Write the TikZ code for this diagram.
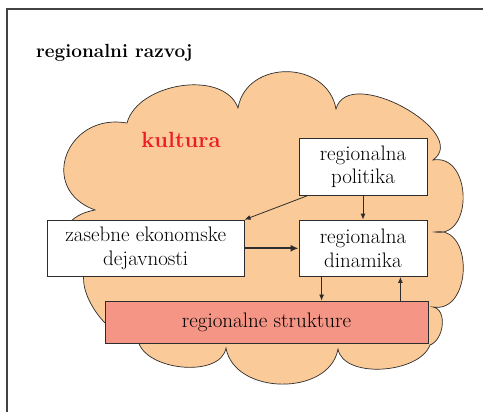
\documentclass[tikz,border=0pt]{standalone}
\usepackage{tikz}
\usetikzlibrary{arrows.meta}
\usetikzlibrary{positioning}

\definecolor{cloudfill}{RGB}{251,202,153}
\definecolor{structfill}{RGB}{244,149,133}
\definecolor{culturered}{RGB}{237,28,36}
\definecolor{linegray}{RGB}{45,45,45}

\begin{document}
\begin{tikzpicture}[x=1pt,y=1pt,node distance=24pt,
  box/.style={draw=linegray,line width=0.8pt,fill=white,inner sep=0pt,align=center,
    minimum height=56.5pt,font=\fontsize{21}{23.5}\selectfont},
  arr/.style={draw=linegray,line width=0.8pt,-{Latex[length=6pt,width=5pt]}},
  bigarr/.style={draw=linegray,line width=1.8pt,-{Latex[length=8pt,width=7pt]}}]
  \useasboundingbox (0,0) rectangle (483,412);
  \draw[linegray!90,line width=1.6pt] (7,0) -- (7,403) -- (483,403);

  \node[anchor=base west,inner sep=0pt,font=\fontsize{19}{23}\selectfont\bfseries] (titel) at (36,354) {regionalni razvoj};

  % oblak
  \draw[linegray,line width=0.7pt,fill=cloudfill]
    (127,289) to[out=75,in=110,looseness=0.95] (238,304)
    to[out=80,in=100,looseness=1.3] (336,303)
    to[out=75,in=35,looseness=1.1] (433,252)
    to[out=10,in=-10,looseness=1.4] (435,180)
    to[out=10,in=-10,looseness=1.35] (433,105)
    to[out=-10,in=20] (430,67)
    to[out=-110,in=-80,looseness=0.85] (338,63)
    to[out=-100,in=-80,looseness=1.1] (226,64)
    to[out=-100,in=-80,looseness=0.9] (138,72)
    to[out=180,in=200] (96,152)
    to[out=180,in=190,looseness=2.2] (95,202)
    to[out=160,in=170,looseness=1.7] (127,289) -- cycle;

  \node[anchor=base,inner sep=0pt,text=culturered,font=\fontsize{22}{26}\selectfont\bfseries] (kultura) at (181,264) {kultura};

  \node[box,minimum width=128pt] (politika) at (363,245) {regionalna\\politika};
  \node[box,minimum width=128pt,below=of politika] (dinamika) {regionalna\\dinamika};
  \node[box,minimum width=197pt,left=54pt of dinamika] (zasebne) {zasebne ekonomske\\dejavnosti};
  \node[box,fill=structfill,minimum width=323pt,minimum height=42pt] (strukture) at (266.5,90) {regionalne strukture};

  \draw[arr] ([xshift=9pt]politika.south west) -- (zasebne.north east);
  \draw[arr] (politika.south) -- (dinamika.north);
  \draw[bigarr] (zasebne.east) -- (dinamika.west);
  \draw[arr] ([xshift=23pt]dinamika.south west) -- ([xshift=23pt]dinamika.south west |- strukture.north);
  \draw[arr] ([xshift=-27pt]dinamika.south east |- strukture.north) -- ([xshift=-27pt]dinamika.south east);
\end{tikzpicture}
\end{document}
